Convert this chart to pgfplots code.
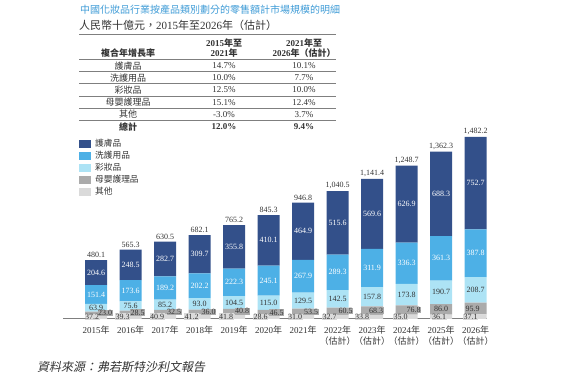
\documentclass[border=0pt]{standalone}
\usepackage{fontspec}
\usepackage{pgfplots}
\usepackage{pgfplotstable}
\pgfplotsset{compat=1.18}
\setmainfont{Liberation Serif}
\newfontfamily\cjk{Noto Sans CJK TC}
\newfontfamily\cjkit[FakeSlant=0.2]{Noto Sans CJK TC}
\newcommand\zh[1]{{\cjk #1}}
\definecolor{cskin}{HTML}{33508A}
\definecolor{cwash}{HTML}{4DB0E6}
\definecolor{cmake}{HTML}{ADE3F5}
\definecolor{cbaby}{HTML}{ABABAB}
\definecolor{cother}{HTML}{DADADA}
\definecolor{ctitle}{HTML}{3E9BD6}
\definecolor{ctext}{HTML}{333333}
\definecolor{cline}{HTML}{7F7F7F}
\pgfplotsset{/pgf/number format/assume math mode=true}

\pgfplotstableread{
x other baby makeup wash skin total dxo dxb
0 37.2 23.0 63.9 151.4 204.6 480.1 -4 9
1 39.3 28.5 75.6 173.6 248.5 565.3 -8 7
2 40.9 32.5 85.2 189.2 282.7 630.5 -8 9
3 41.2 36.0 93.0 202.2 309.7 682.1 -8 9
4 41.8 40.8 104.5 222.3 355.8 765.2 -8 8
5 28.6 46.5 115.0 245.1 410.1 845.3 -8 8
6 31.0 53.5 129.5 267.9 464.9 946.8 -8 8
7 32.7 60.5 142.5 289.3 515.6 1040.5 -8 8
8 33.8 68.3 157.8 311.9 569.6 1141.4 -10 4
9 35.0 76.8 173.8 336.3 626.9 1248.7 -6 7
10 36.1 86.0 190.7 361.3 688.3 1362.3 -2 0
11 37.1 95.9 208.7 387.8 752.7 1482.2 -5 -3
}\data

\begin{document}
\begin{tikzpicture}[x=1pt,y=1pt]
\useasboundingbox (0pt,0pt) rectangle (569pt,379pt);
% titles
\node[anchor=west, inner sep=0, font=\fontsize{10}{12}\selectfont\cjk, text=ctitle] at (80pt,369pt) {中國化妝品行業按產品類別劃分的零售額計市場規模的明細};
\node[anchor=west, inner sep=0, font=\fontsize{11}{13}\selectfont, text=ctext] at (79pt,354pt) {\zh{人民幣十億元，}2015\zh{年至}2026\zh{年（估計）}};
% table
\draw[cline, line width=0.9pt] (79pt,345pt) -- (336pt,345pt);
\foreach \y in {59.5,71.7,83.9,96.1,108.3,120.5} \draw[cline, line width=0.9pt] (79pt,{(379-\y)*1pt}) -- (336pt,{(379-\y)*1pt});
\begin{scope}[every node/.style={inner sep=0, font=\fontsize{9}{10}\selectfont, text=ctext}]
\node at (128pt,326pt) {\cjk\bfseries 複合年增長率};
\node at (224pt,336pt) {\bfseries 2015\zh{年至}};
\node at (224pt,326pt) {\bfseries 2021\zh{年}};
\node at (304pt,336pt) {\bfseries 2021\zh{年至}};
\node at (304pt,326pt) {\bfseries 2026\zh{年（估計）}};
\node at (128pt,313pt) {\zh{護膚品}};
\node at (224pt,313pt) {14.7\%};
\node at (304pt,313pt) {10.1\%};
\node at (128pt,301pt) {\zh{洗護用品}};
\node at (224pt,301pt) {10.0\%};
\node at (304pt,301pt) {7.7\%};
\node at (128pt,289pt) {\zh{彩妝品}};
\node at (224pt,289pt) {12.5\%};
\node at (304pt,289pt) {10.0\%};
\node at (128pt,276.7pt) {\zh{母嬰護理品}};
\node at (224pt,276.7pt) {15.1\%};
\node at (304pt,276.7pt) {12.4\%};
\node at (128pt,264.5pt) {\zh{其他}};
\node at (224pt,264.5pt) {-3.0\%};
\node at (304pt,264.5pt) {3.7\%};
\node at (128pt,252pt) {\cjk\bfseries 總計};
\node at (224pt,252pt) {\bfseries 12.0\%};
\node at (304pt,252pt) {\bfseries 9.4\%};
\end{scope}
% source
\node[anchor=west, inner sep=0, font=\fontsize{12}{14}\selectfont\cjkit, text=ctext] at (37pt,12pt) {資料來源：弗若斯特沙利文報告};

\begin{axis}[
  at={(63pt,60pt)}, anchor=south west,
  scale only axis, width=424pt, height=184.2pt,
  xmin=-0.96, xmax=11.33, ymin=0, ymax=1500,
  ybar stacked, bar width=22pt,
  axis x line=bottom, axis y line=none,
  x axis line style={cline, line width=1pt, -},
  xtick={0,...,11}, major tick length=0pt, ytick=\empty,
  xticklabels={2015\zh{年},2016\zh{年},2017\zh{年},2018\zh{年},2019\zh{年},2020\zh{年},2021\zh{年},
    {2022\zh{年}\\\zh{（估計）}},{2023\zh{年}\\\zh{（估計）}},{2024\zh{年}\\\zh{（估計）}},{2025\zh{年}\\\zh{（估計）}},{2026\zh{年}\\\zh{（估計）}}},
  xticklabel style={font=\fontsize{9}{11}\selectfont, text=ctext, align=center, yshift=-3pt},
  legend style={at={(rel axis cs:0.0377,0.983)}, anchor=north west, draw=none, fill=none,
    font=\fontsize{8.7}{10}\selectfont\cjk, text=ctext, row sep=1.3pt, inner sep=0pt,
    nodes={inner sep=1pt}},
  legend cell align=left, reverse legend,
  legend image code/.code={\fill[#1] (0pt,-4pt) rectangle (12pt,4pt); \path (15pt,0pt);},
]
\addplot[fill=cother, draw=none] table[x=x,y=other]{\data};
\addplot[fill=cbaby, draw=none] table[x=x,y=baby]{\data};
\addplot[fill=cmake, draw=none] table[x=x,y=makeup]{\data};
\addplot[fill=cwash, draw=none] table[x=x,y=wash]{\data};
\addplot[fill=cskin, draw=none] table[x=x,y=skin]{\data};
\legend{其他,母嬰護理品,彩妝品,洗護用品,護膚品}
\end{axis}

\begin{axis}[
  at={(63pt,60pt)}, anchor=south west,
  scale only axis, width=424pt, height=184.2pt,
  xmin=-0.96, xmax=11.33, ymin=0, ymax=1500,
  hide axis, clip=false,
  nodes near coords={\pgfmathprintnumber[fixed,fixed zerofill,precision=1]{\pgfplotspointmeta}},
  every node near coord/.append style={anchor=center, font=\fontsize{8}{9}\selectfont, inner sep=0.5pt, text=ctext},
]
\addplot[draw=none, point meta=\thisrow{skin}, every node near coord/.append style={text=white}]
  table[x=x, y expr=\thisrow{other}+\thisrow{baby}+\thisrow{makeup}+\thisrow{wash}+0.5*\thisrow{skin}]{\data};
\addplot[draw=none, point meta=\thisrow{wash}, every node near coord/.append style={text=white}]
  table[x=x, y expr=\thisrow{other}+\thisrow{baby}+\thisrow{makeup}+0.5*\thisrow{wash}]{\data};
\addplot[draw=none, point meta=\thisrow{makeup}]
  table[x=x, y expr=\thisrow{other}+\thisrow{baby}+0.5*\thisrow{makeup}]{\data};
\addplot[draw=none, point meta=\thisrow{other}, visualization depends on={\thisrow{dxo}\as\dxo},
  every node near coord/.append style={xshift=\dxo pt, fill=cother}]
  table[x=x, y expr=0.5*\thisrow{other}]{\data};
\addplot[draw=none, point meta=\thisrow{baby}, visualization depends on={\thisrow{dxb}\as\dxb},
  every node near coord/.append style={xshift=\dxb pt, fill=cbaby}]
  table[x=x, y expr=\thisrow{other}+0.5*\thisrow{baby}]{\data};
\addplot[draw=none, point meta=\thisrow{total},
  nodes near coords={\pgfmathprintnumber[fixed,fixed zerofill,precision=1,1000 sep={,}]{\pgfplotspointmeta}},
  every node near coord/.append style={anchor=south, yshift=1.5pt}]
  table[x=x, y=total]{\data};
\end{axis}
\end{tikzpicture}
\end{document}
